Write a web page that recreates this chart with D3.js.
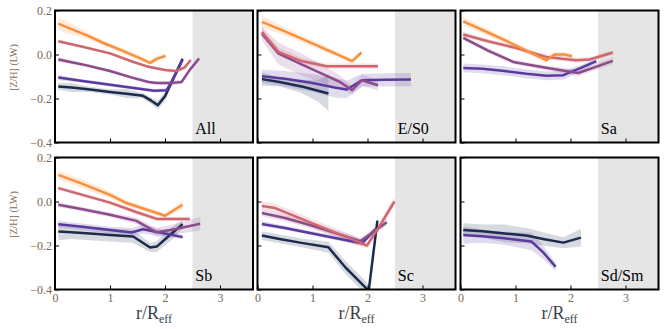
<!DOCTYPE html>
<html>
<head>
<meta charset="utf-8">
<script src="https://cdn.jsdelivr.net/npm/d3@7"></script>
<style>
  body { margin: 0; background: #fff; }
  text { font-family: "Liberation Serif", "DejaVu Serif", serif; }
</style>
</head>
<body>
<div id="chart"></div>
<script>
// each profile point: [r/Reff, [Z/H], half-width of band]
var bins = ["navy", "purple", "mauve", "salmon", "orange"];
var binColors = {navy: "#1b2b4b", purple: "#5b3a9e", mauve: "#8c4c8c", salmon: "#d06670", orange: "#fa8f3c"};

var panelNames = ["All", "E/S0", "Sa", "Sb", "Sc", "Sd/Sm"];
var xTicks = [0, 1, 2, 3];
var yTicks = [-0.4, -0.2, 0.0, 0.2];

var profAll = {
    orange: [[0.06,0.14,0.03],[0.3,0.115,0.025],[0.6,0.085,0.015],[0.9,0.05,0.012],[1.2,0.02,0.012],[1.5,-0.012,0.012],[1.73,-0.038,0.01],[1.85,-0.02,0.014],[2.01,-0.006,0.01]],
    salmon: [[0.06,0.06,0.008],[0.5,0.035,0.006],[1.0,0.005,0.006],[1.4,-0.032,0.006],[1.7,-0.056,0.006],[2.0,-0.07,0.008],[2.2,-0.075,0.008],[2.35,-0.06,0.01],[2.47,-0.025,0.01]],
    mauve: [[0.06,-0.023,0.01],[0.5,-0.045,0.008],[1.0,-0.075,0.008],[1.4,-0.105,0.008],[1.7,-0.125,0.008],[1.85,-0.13,0.008],[2.1,-0.13,0.01],[2.3,-0.125,0.01],[2.45,-0.07,0.01],[2.62,-0.018,0.01]],
    purple: [[0.06,-0.105,0.012],[0.5,-0.12,0.008],[1.0,-0.138,0.008],[1.5,-0.155,0.008],[1.8,-0.165,0.008],[2.03,-0.162,0.01],[2.15,-0.11,0.01],[2.32,-0.025,0.01]],
    navy: [[0.06,-0.145,0.015],[0.3,-0.15,0.02],[0.6,-0.158,0.012],[1.0,-0.17,0.012],[1.3,-0.178,0.02],[1.6,-0.188,0.012],[1.75,-0.21,0.015],[1.87,-0.23,0.02],[2.0,-0.19,0.02],[2.15,-0.11,0.02],[2.32,-0.02,0.01]]
};

var profES0 = {
    orange: [[0.08,0.148,0.03],[0.4,0.115,0.02],[0.8,0.072,0.015],[1.2,0.028,0.015],[1.5,-0.005,0.012],[1.72,-0.03,0.012],[1.89,0.009,0.01]],
    salmon: [[0.08,0.103,0.02],[0.38,0.012,0.02],[0.8,-0.03,0.015],[1.26,-0.053,0.012],[1.7,-0.053,0.012],[2.19,-0.053,0.012]],
    mauve: [[0.08,0.095,0.03],[0.38,0.005,0.05],[0.8,-0.045,0.05],[1.2,-0.09,0.04],[1.5,-0.125,0.03],[1.72,-0.162,0.02],[1.9,-0.117,0.025],[2.19,-0.14,0.025]],
    purple: [[0.08,-0.099,0.03],[0.5,-0.11,0.035],[1.0,-0.13,0.04],[1.4,-0.15,0.045],[1.62,-0.159,0.04],[1.9,-0.117,0.03],[2.3,-0.115,0.03],[2.79,-0.114,0.03]],
    navy: [[0.08,-0.112,0.03],[0.4,-0.125,0.02],[0.8,-0.145,0.03],[1.1,-0.165,0.05],[1.29,-0.177,0.08]]
};

var profSa = {
    orange: [[0.05,0.151,0.02],[0.5,0.1,0.015],[1.0,0.042,0.012],[1.3,0.005,0.012],[1.56,-0.026,0.012],[1.71,0.0,0.01],[1.89,0.0,0.01],[2.03,-0.008,0.01]],
    salmon: [[0.05,0.091,0.012],[0.5,0.06,0.01],[1.0,0.03,0.01],[1.56,-0.011,0.012],[2.1,-0.026,0.012],[2.35,-0.023,0.012],[2.77,0.009,0.01]],
    mauve: [[0.05,0.076,0.01],[0.5,0.018,0.01],[0.96,-0.034,0.01],[1.5,-0.058,0.01],[2.14,-0.084,0.015],[2.77,-0.029,0.015]],
    purple: [[0.05,-0.061,0.02],[0.4,-0.065,0.02],[0.8,-0.075,0.02],[1.2,-0.088,0.02],[1.56,-0.097,0.02],[1.87,-0.094,0.02],[2.2,-0.06,0.015],[2.47,-0.03,0.01]]
};

var profSb = {
    orange: [[0.06,0.121,0.02],[0.5,0.08,0.02],[1.0,0.03,0.015],[1.3,-0.007,0.012],[1.7,-0.04,0.012],[2.0,-0.065,0.01],[2.32,-0.015,0.02]],
    salmon: [[0.06,0.061,0.01],[0.5,0.03,0.01],[1.0,-0.005,0.01],[1.5,-0.05,0.01],[1.85,-0.079,0.01],[2.45,-0.079,0.01]],
    mauve: [[0.06,-0.015,0.01],[0.5,-0.035,0.01],[1.0,-0.06,0.01],[1.48,-0.088,0.015],[1.85,-0.14,0.02],[2.2,-0.125,0.025],[2.64,-0.101,0.03]],
    purple: [[0.06,-0.103,0.015],[0.5,-0.115,0.015],[1.0,-0.13,0.015],[1.39,-0.141,0.02],[1.6,-0.126,0.02],[2.0,-0.145,0.015],[2.32,-0.162,0.01]],
    navy: [[0.06,-0.136,0.04],[0.3,-0.14,0.03],[0.7,-0.147,0.03],[1.0,-0.152,0.03],[1.42,-0.159,0.03],[1.73,-0.209,0.02],[1.85,-0.205,0.025],[2.1,-0.15,0.03],[2.32,-0.103,0.02]]
};

var profSc = {
    salmon: [[0.08,-0.02,0.02],[0.32,-0.03,0.02],[0.8,-0.079,0.02],[1.3,-0.13,0.02],[1.7,-0.17,0.02],[1.99,-0.2,0.015],[2.2,-0.12,0.02],[2.49,0.0,0.02]],
    mauve: [[0.08,-0.052,0.015],[0.5,-0.075,0.015],[1.0,-0.11,0.015],[1.5,-0.15,0.015],[1.87,-0.18,0.015],[2.1,-0.14,0.015],[2.35,-0.094,0.015]],
    purple: [[0.08,-0.102,0.012],[0.5,-0.12,0.01],[1.0,-0.145,0.01],[1.5,-0.17,0.01],[1.9,-0.19,0.012],[2.14,-0.127,0.012]],
    navy: [[0.08,-0.155,0.02],[0.4,-0.17,0.02],[0.8,-0.188,0.02],[1.29,-0.208,0.025],[1.6,-0.3,0.03],[1.96,-0.39,0.03],[2.02,-0.41,0.03],[2.18,-0.087,0.03]]
};

var profSdSm = {
    navy: [[0.05,-0.129,0.03],[0.4,-0.135,0.03],[0.8,-0.145,0.04],[1.2,-0.155,0.035],[1.5,-0.17,0.03],[1.87,-0.187,0.025],[2.19,-0.164,0.04]],
    purple: [[0.05,-0.152,0.04],[0.4,-0.158,0.03],[0.8,-0.167,0.03],[1.29,-0.182,0.04],[1.5,-0.23,0.03],[1.73,-0.297,0.02]]
};

var profiles = [profAll, profES0, profSa, profSb, profSc, profSdSm];

function init() {
    var W = 665, H = 329;
    var pw = 198, ph = 132;
    var lefts = [55, 257.5, 460.5], tops = [10.5, 157.5];

    var svg = d3.select("#chart").append("svg")
        .attr("width", W).attr("height", H);

    var tickCol = "#7d6650";

    panelNames.forEach(function(name, i) {
        var col = i % 3, row = Math.floor(i / 3);
        var x0 = lefts[col], y0 = tops[row];

        var x = d3.scaleLinear().domain([0, 3.6]).range([x0, x0 + pw]);
        var y = d3.scaleLinear().domain([-0.4, 0.2]).range([y0 + ph, y0]);

        var clipId = "clip" + i;
        svg.append("clipPath").attr("id", clipId)
            .append("rect").attr("x", x0).attr("y", y0).attr("width", pw).attr("height", ph);

        var g = svg.append("g").attr("clip-path", "url(#" + clipId + ")");

        // shaded outer region
        g.append("rect")
            .attr("x", x(2.5)).attr("y", y0)
            .attr("width", x(3.6) - x(2.5)).attr("height", ph)
            .attr("fill", "#e5e5e5");

        var prof = profiles[i];

        var area = d3.area()
            .x(d => x(d[0]))
            .y0(d => y(d[1] - d[2]))
            .y1(d => y(d[1] + d[2]));

        var line = d3.line()
            .x(d => x(d[0]))
            .y(d => y(d[1]));

        bins.forEach(function(b) {
            if (!prof[b]) return;
            g.append("path").datum(prof[b])
                .attr("d", area)
                .attr("fill", binColors[b])
                .attr("fill-opacity", 0.18);
        });

        bins.forEach(function(b) {
            if (!prof[b]) return;
            g.append("path").datum(prof[b])
                .attr("d", line)
                .attr("fill", "none")
                .attr("stroke", binColors[b])
                .attr("stroke-width", 2.5)
                .attr("stroke-linejoin", "round");
        });

        // axes with inward ticks
        var ya = svg.append("g")
            .attr("transform", `translate(${x0}, 0)`)
            .call(d3.axisLeft(y).tickValues(yTicks).tickSize(-4).tickPadding(3)
                .tickFormat(col === 0 ? d3.format(".1f") : ""));
        ya.select(".domain").remove();
        ya.selectAll("line").attr("stroke", "#000").attr("stroke-width", 1);
        ya.selectAll("text").attr("fill", tickCol).style("font-size", "12px")
            .style("font-family", "'Liberation Serif', serif");

        var xa = svg.append("g")
            .attr("transform", `translate(0, ${y0 + ph})`)
            .call(d3.axisBottom(x).tickValues(xTicks).tickSize(-4).tickPadding(4)
                .tickFormat(row === 1 ? d3.format("d") : ""));
        xa.select(".domain").remove();
        xa.selectAll("line").attr("stroke", "#000").attr("stroke-width", 1);
        xa.selectAll("text").attr("fill", tickCol).style("font-size", "12px")
            .style("font-family", "'Liberation Serif', serif");

        // frame
        svg.append("rect")
            .attr("x", x0).attr("y", y0).attr("width", pw).attr("height", ph)
            .attr("fill", "none").attr("stroke", "#000").attr("stroke-width", 2);

        svg.append("text")
            .attr("x", x(2.55)).attr("y", y0 + ph - 9)
            .style("font-size", "16px")
            .attr("fill", "#000")
            .text(name);

        if (row === 1) {
            var t = svg.append("text")
                .attr("x", x0 + pw / 2).attr("y", H - 10)
                .attr("text-anchor", "middle")
                .attr("fill", "#3a3f4a")
                .style("font-size", "18px");
            t.append("tspan").text("r/R");
            t.append("tspan").attr("dy", 4).style("font-size", "12px").text("eff");
        }

        if (col === 0) {
            svg.append("text")
                .attr("transform", `translate(17, ${y0 + ph / 2 - 9}) rotate(-90)`)
                .attr("text-anchor", "middle")
                .attr("fill", tickCol)
                .style("font-size", "10px")
                .text("[Z/H] (LW)");
        }
    });
}

window.onload = init;
</script>
</body>
</html>
